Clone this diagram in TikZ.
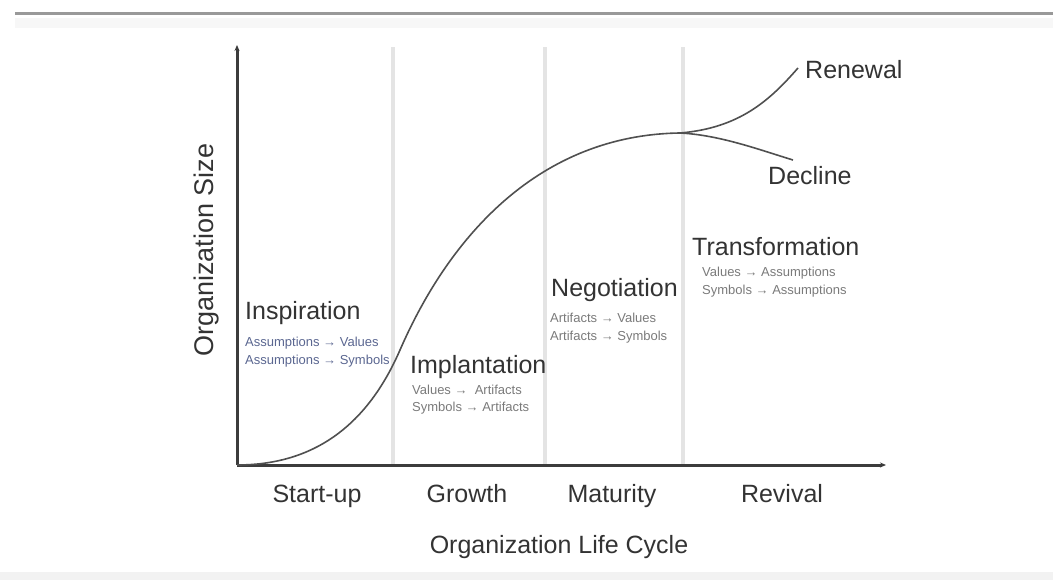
\documentclass[tikz,border=0pt]{standalone}
\usepackage{fontspec}
\setmainfont{Liberation Sans}
\usetikzlibrary{arrows.meta}
\definecolor{axisgray}{HTML}{3C3C3C}
\definecolor{phasegray}{HTML}{E4E4E4}
\definecolor{textgray}{HTML}{333333}
\definecolor{smallgray}{HTML}{7A7A7A}
\definecolor{smallblue}{HTML}{5A6690}
\tikzstyle{stage}=[anchor=west, inner sep=0pt, text=textgray, font=\fontsize{25}{28}\selectfont]
\tikzstyle{detail}=[anchor=west, inner sep=0pt, text=smallgray, font=\fontsize{13}{15}\selectfont]
\tikzstyle{period}=[inner sep=0pt, anchor=base, text=textgray, font=\fontsize{25}{28}\selectfont]
\newcommand{\stage}{\node[stage]}
\newcommand{\detail}{\node[detail]}

\begin{document}
\begin{tikzpicture}[x=1pt, y=-1pt]
\useasboundingbox (0,0) rectangle (1053,580);
% frame strips
\fill[black!3] (15,18) rectangle (1053,28);
\draw[black!40, line width=3pt] (15,14) -- (1053,14);
\fill[black!5] (0,572) rectangle (1053,580);
% phase separators
\foreach \x in {393,545,683}{
	\draw[phasegray, line width=4.5pt] (\x,47) -- (\x,465);
	}
% axes
\coordinate (o) at (237,465);
\coordinate (ytop) at (237,45);
\coordinate (xend) at (886,465);
\draw[axisgray, line width=3pt, -{Stealth[length=6pt, width=5pt]}] (o) -- (ytop);
\draw[axisgray, line width=3pt, -{Stealth[length=6pt, width=5pt]}] (o) -- (xend);
% life cycle curve
\coordinate (bend) at (400,350);
\coordinate (peak) at (680,133);
\coordinate (renew) at (798,68);
\coordinate (decl) at (793,160);
\draw[axisgray!90, line width=1.6pt] (o) .. controls (320,465) and (370,419) .. (bend)
	.. controls (450,235) and (540,135) .. (peak);
\draw[axisgray!90, line width=1.6pt] (peak) .. controls (740,128) and (770,100) .. (renew);
\draw[axisgray!90, line width=1.6pt] (peak) .. controls (720,135) and (760,150) .. (decl);
\node[stage] (renewal) at (805,70) {Renewal};
\node[stage] (decline) at (768,176) {Decline};
% stages
\stage (insp) at (245,313) {Inspiration};
\detail[text=smallblue] (insp1) at (245,343) {Assumptions → Values};
\detail[text=smallblue] (insp2) at (245,361) {Assumptions → Symbols};
\stage (impl) at (410,367) {Implantation};
\detail (impl1) at (412,390) {Values → \ Artifacts};
\detail (impl2) at (412,408) {Symbols → Artifacts};
\stage (nego) at (551,290) {Negotiation};
\detail (nego1) at (550,318) {Artifacts → Values};
\detail (nego2) at (550,337) {Artifacts → Symbols};
\stage (trans) at (692,247) {Transformation};
\detail (trans1) at (702,273) {Values → Assumptions};
\detail (trans2) at (702,291) {Symbols → Assumptions};
% axis labels
\foreach \x/\name in {317/Start-up, 467/Growth, 612/Maturity, 782/Revival}{
	\node[period] (p-\name) at (\x,502) {\name};
	}
\node[period] (xlabel) at (559,553) {Organization Life Cycle};
\node[period, anchor=center, rotate=90, font=\fontsize{27}{30}\selectfont] (ylabel) at (207,250) {Organization Size};
\end{tikzpicture}
\end{document}
